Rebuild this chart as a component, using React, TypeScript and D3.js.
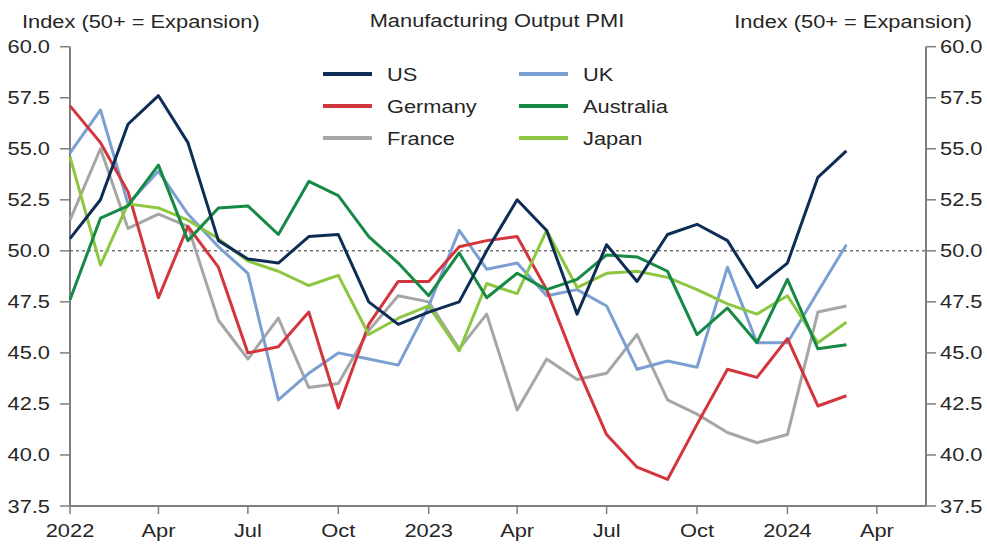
import React from "react";
import * as d3 from "d3";

const months: string[] = [
  "2022-01","2022-02","2022-03","2022-04","2022-05","2022-06","2022-07","2022-08","2022-09","2022-10","2022-11","2022-12",
  "2023-01","2023-02","2023-03","2023-04","2023-05","2023-06","2023-07","2023-08","2023-09","2023-10","2023-11","2023-12",
  "2024-01","2024-02","2024-03",
];

const us = [50.6, 52.5, 56.2, 57.6, 55.3, 50.5, 49.6, 49.4, 50.7, 50.8, 47.5, 46.4, 47.0, 47.5, 50.0, 52.5, 51.0, 46.9, 50.3, 48.5, 50.8, 51.3, 50.5, 48.2, 49.4, 53.6, 54.9];
const germany = [57.1, 55.3, 52.9, 47.7, 51.2, 49.2, 45.0, 45.3, 47.0, 42.3, 46.4, 48.5, 48.5, 50.2, 50.5, 50.7, 48.1, 44.3, 41.0, 39.4, 38.8, 41.5, 44.2, 43.8, 45.7, 42.4, 42.9];
const france = [51.5, 55.0, 51.1, 51.8, 51.2, 46.6, 44.7, 46.7, 43.3, 43.5, 46.1, 47.8, 47.5, 45.2, 46.9, 42.2, 44.7, 43.7, 44.0, 45.9, 42.7, 42.0, 41.1, 40.6, 41.0, 47.0, 47.3];
const uk = [54.8, 56.9, 52.3, 53.9, 51.8, 50.2, 48.9, 42.7, 44.0, 45.0, 44.7, 44.4, 47.3, 51.0, 49.1, 49.4, 47.8, 48.1, 47.3, 44.2, 44.6, 44.3, 49.2, 45.5, 45.5, 48.0, 50.3];
const australia = [47.6, 51.6, 52.2, 54.2, 50.5, 52.1, 52.2, 50.8, 53.4, 52.7, 50.7, 49.4, 47.8, 49.9, 47.7, 48.9, 48.1, 48.6, 49.8, 49.7, 49.0, 45.9, 47.2, 45.5, 48.6, 45.2, 45.4];
const japan = [54.6, 49.3, 52.3, 52.1, 51.5, 50.6, 49.5, 49.0, 48.3, 48.8, 45.9, 46.7, 47.3, 45.1, 48.4, 47.9, 51.0, 48.2, 48.9, 49.0, 48.7, 48.1, 47.4, 46.9, 47.8, 45.5, 46.5];

const yTicks = [37.5, 40.0, 42.5, 45.0, 47.5, 50.0, 52.5, 55.0, 57.5, 60.0];
const xTickDates = ["2022-01","2022-04","2022-07","2022-10","2023-01","2023-04","2023-07","2023-10","2024-01","2024-04"];
const xTickLabels = ["2022","Apr","Jul","Oct","2023","Apr","Jul","Oct","2024","Apr"];

const chartTitle = "Manufacturing Output PMI";
const axisTitle = "Index (50+ = Expansion)";

const seriesDefs = [
  { name: "France", values: france, color: "#a6a6a6" },
  { name: "UK", values: uk, color: "#7c9fd2" },
  { name: "Germany", values: germany, color: "#d2353c" },
  { name: "Japan", values: japan, color: "#8dc641" },
  { name: "Australia", values: australia, color: "#168a45" },
  { name: "US", values: us, color: "#0e2d54" },
];

const legendOrder = [
  ["US", "UK"],
  ["Germany", "Australia"],
  ["France", "Japan"],
];

const parse = (s: string) => {
  const [y, m] = s.split("-").map(Number);
  return new Date(y, m - 1, 1);
};

const W = 987;
const H = 548;
const left = 70;
const right = 926;
const top = 46.7;
const bottom = 506;
const FONT = "'Liberation Sans', Arial, sans-serif";
const FS = 18.5;
const SX = 1.18;

function T(props: { x: number; y: number; anchor?: string; children: React.ReactNode; fill?: string }) {
  return (
    <text
      transform={`translate(${props.x},${props.y}) scale(${SX},1)`}
      textAnchor={props.anchor || "start"}
      fontFamily={FONT}
      fontSize={FS}
      fill={props.fill || "#262626"}
    >
      {props.children}
    </text>
  );
}

export default function App() {
  const x = d3.scaleTime().domain([new Date(2022, 0, 1), new Date(2024, 4, 21)]).range([left, right]);
  const y = d3.scaleLinear().domain([37.5, 60]).range([bottom, top]);
  const dates = months.map(parse);
  const line = d3
    .line<number>()
    .x((_, i) => x(dates[i]))
    .y((v) => y(v));

  const colorOf = (n: string) => seriesDefs.find((s) => s.name === n)!.color;
  const axisColor = "#7f7f7f";

  return (
    <svg width={W} height={H} style={{ position: "absolute", left: 0, top: 0, background: "#fff" }}>
      <rect x={0} y={0} width={W} height={H} fill="#fff" />
      {/* titles */}
      <T x={22} y={28}>{axisTitle}</T>
      <T x={972} y={28} anchor="end">{axisTitle}</T>
      <T x={497} y={27} anchor="middle">{chartTitle}</T>

      {/* y ticks left and right */}
      {yTicks.map((t) => (
        <g key={t}>
          <line x1={left - 10} x2={left} y1={y(t)} y2={y(t)} stroke={axisColor} strokeWidth={1.5} />
          <line x1={right} x2={right + 10} y1={y(t)} y2={y(t)} stroke={axisColor} strokeWidth={1.5} />
          <T x={left - 20} y={y(t) + 6.5} anchor="end">{t.toFixed(1)}</T>
          <T x={right + 14} y={y(t) + 6.5}>{t.toFixed(1)}</T>
        </g>
      ))}

      {/* x ticks */}
      {xTickDates.map((d, i) => {
        const xx = x(parse(d));
        return (
          <g key={d}>
            <line x1={xx} x2={xx} y1={bottom} y2={bottom + 8} stroke={axisColor} strokeWidth={1.5} />
            <T x={xx} y={537} anchor="middle">{xTickLabels[i]}</T>
          </g>
        );
      })}

      {/* axes */}
      <line x1={left} x2={left} y1={top} y2={bottom} stroke={axisColor} strokeWidth={2} />
      <line x1={right} x2={right} y1={top} y2={bottom} stroke={axisColor} strokeWidth={2} />
      <line x1={left} x2={right} y1={bottom} y2={bottom} stroke={axisColor} strokeWidth={2} />

      {/* 50 reference */}
      <line x1={left} x2={right} y1={y(50)} y2={y(50)} stroke="#333" strokeWidth={1} strokeDasharray="3,3" />

      {/* series */}
      {seriesDefs.map((s) => (
        <path
          key={s.name}
          d={line(s.values) || ""}
          fill="none"
          stroke={s.color}
          strokeWidth={3}
          strokeLinejoin="round"
        />
      ))}

      {/* legend */}
      {legendOrder.map((row, r) =>
        row.map((name, c) => {
          const lx = c === 0 ? 323 : 519;
          const ly = 74 + r * 32;
          return (
            <g key={name}>
              <line x1={lx} x2={lx + 49} y1={ly} y2={ly} stroke={colorOf(name)} strokeWidth={4} />
              <T x={lx + 64} y={ly + 7}>{name}</T>
            </g>
          );
        })
      )}
    </svg>
  );
}
